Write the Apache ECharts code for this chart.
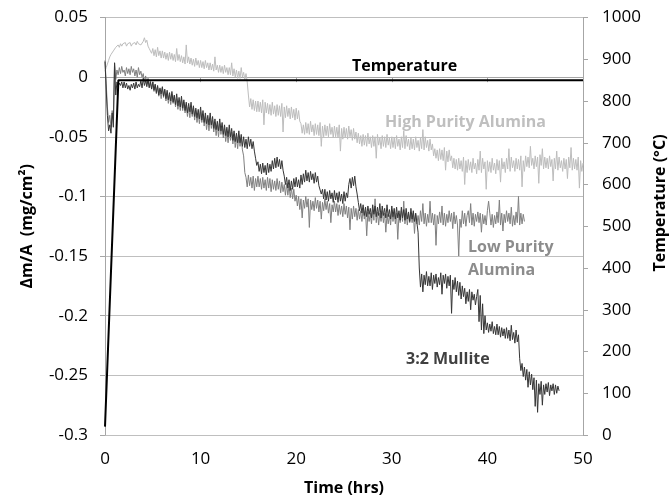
<!DOCTYPE html>
<html>
<head>
<meta charset="utf-8">
<script src="https://cdn.jsdelivr.net/npm/echarts@6/dist/echarts.min.js"></script>
<style>html,body{margin:0;padding:0;background:#fff}#c{width:670px;height:502px}</style>
</head>
<body>
<div id="c"></div>
<script>
// Sampling grid (hours) shared by the mass-change series
const SAMPLE_STEP = 0.125;

// 3:2 Mullite, Δm/A (mg/cm²), one value every 0.125 h from t = 0 (8 per hour, one row per hour)
const mulliteVals = [
  0.013, -0.010, -0.032, -0.045, -0.040, -0.047, -0.030, -0.042,
  0.012, -0.015, -0.004, -0.008, -0.005, -0.007, -0.004, -0.009,
  -0.004, -0.009, -0.005, -0.010, -0.007, -0.011, -0.006, -0.009,
  -0.005, -0.010, -0.004, -0.009, -0.006, -0.008, -0.003, -0.009,
  -0.001, -0.007, -0.003, -0.008, -0.002, -0.009, -0.004, -0.010,
  -0.004, -0.011, -0.006, -0.013, -0.007, -0.015, -0.009, -0.014,
  -0.008, -0.016, -0.010, -0.018, -0.011, -0.019, -0.013, -0.020,
  -0.012, -0.021, -0.015, -0.023, -0.014, -0.024, -0.017, -0.025,
  -0.016, -0.026, -0.019, -0.028, -0.021, -0.030, -0.022, -0.029,
  -0.021, -0.031, -0.024, -0.033, -0.026, -0.034, -0.027, -0.035,
  -0.025, -0.036, -0.028, -0.038, -0.030, -0.039, -0.032, -0.040,
  -0.030, -0.040, -0.033, -0.043, -0.035, -0.044, -0.037, -0.045,
  -0.035, -0.045, -0.038, -0.048, -0.040, -0.049, -0.042, -0.050,
  -0.040, -0.050, -0.043, -0.053, -0.045, -0.054, -0.047, -0.055,
  -0.045, -0.055, -0.048, -0.058, -0.050, -0.059, -0.052, -0.060,
  -0.050, -0.058, -0.052, -0.060, -0.054, -0.062, -0.068, -0.074,
  -0.071, -0.079, -0.073, -0.081, -0.072, -0.080, -0.074, -0.082,
  -0.072, -0.080, -0.073, -0.079, -0.070, -0.077, -0.068, -0.076,
  -0.067, -0.075, -0.069, -0.077, -0.070, -0.078, -0.083, -0.090,
  -0.084, -0.093, -0.086, -0.095, -0.087, -0.094, -0.085, -0.092,
  -0.084, -0.092, -0.086, -0.093, -0.082, -0.090, -0.081, -0.088,
  -0.078, -0.087, -0.080, -0.088, -0.079, -0.086, -0.081, -0.089,
  -0.080, -0.088, -0.083, -0.091, -0.090, -0.098, -0.094, -0.102,
  -0.094, -0.103, -0.096, -0.104, -0.095, -0.102, -0.097, -0.105,
  -0.095, -0.103, -0.097, -0.105, -0.096, -0.104, -0.098, -0.106,
  -0.096, -0.104, -0.097, -0.101, -0.090, -0.085, -0.093, -0.084,
  -0.091, -0.083, -0.092, -0.098, -0.105, -0.112, -0.106, -0.114,
  -0.107, -0.116, -0.109, -0.117, -0.108, -0.115, -0.110, -0.118,
  -0.107, -0.115, -0.108, -0.117, -0.109, -0.116, -0.106, -0.118,
  -0.108, -0.116, -0.110, -0.118, -0.107, -0.117, -0.111, -0.119,
  -0.108, -0.117, -0.110, -0.119, -0.109, -0.118, -0.112, -0.120,
  -0.109, -0.118, -0.111, -0.120, -0.110, -0.119, -0.113, -0.121,
  -0.110, -0.119, -0.112, -0.121, -0.114, -0.122, -0.130, -0.160,
  -0.176, -0.165, -0.180, -0.166, -0.174, -0.163, -0.175, -0.167,
  -0.175, -0.164, -0.178, -0.166, -0.173, -0.165, -0.176, -0.168,
  -0.174, -0.164, -0.182, -0.166, -0.173, -0.165, -0.177, -0.167,
  -0.175, -0.166, -0.198, -0.170, -0.178, -0.168, -0.180, -0.171,
  -0.183, -0.172, -0.186, -0.175, -0.184, -0.177, -0.190, -0.180,
  -0.188, -0.178, -0.195, -0.180, -0.187, -0.182, -0.191, -0.184,
  -0.178, -0.205, -0.183, -0.212, -0.190, -0.215, -0.200, -0.212,
  -0.206, -0.214, -0.207, -0.213, -0.205, -0.215, -0.209, -0.216,
  -0.207, -0.216, -0.209, -0.218, -0.210, -0.217, -0.211, -0.219,
  -0.210, -0.219, -0.212, -0.221, -0.208, -0.220, -0.214, -0.223,
  -0.212, -0.222, -0.216, -0.236, -0.246, -0.240, -0.251, -0.243,
  -0.254, -0.245, -0.260, -0.247, -0.258, -0.249, -0.262, -0.252,
  -0.276, -0.254, -0.281, -0.257, -0.266, -0.255, -0.275, -0.258,
  -0.266, -0.257, -0.264, -0.256, -0.267, -0.258, -0.263, -0.257,
  -0.266, -0.258, -0.265, -0.259, -0.263
];

// Low Purity Alumina, same sampling
const lowPurityVals = [
  0.014, -0.005, -0.025, -0.038, -0.032, -0.042, -0.028, -0.035,
  0.012, -0.002, 0.006, 0.002, 0.008, 0.003, 0.009, 0.004,
  0.006, 0.001, 0.008, 0.003, 0.007, 0.002, 0.009, 0.004,
  0.007, 0.001, 0.006, 0.000, 0.008, 0.002, 0.005, 0.000,
  0.003, -0.004, 0.001, -0.006, -0.001, -0.008, -0.003, -0.010,
  -0.004, -0.012, -0.006, -0.014, -0.008, -0.016, -0.010, -0.018,
  -0.009, -0.017, -0.011, -0.020, -0.013, -0.022, -0.015, -0.023,
  -0.014, -0.022, -0.016, -0.025, -0.018, -0.027, -0.020, -0.028,
  -0.019, -0.028, -0.021, -0.030, -0.023, -0.033, -0.025, -0.034,
  -0.024, -0.033, -0.026, -0.036, -0.028, -0.038, -0.030, -0.039,
  -0.029, -0.038, -0.031, -0.041, -0.033, -0.044, -0.035, -0.045,
  -0.034, -0.043, -0.036, -0.046, -0.038, -0.049, -0.040, -0.050,
  -0.039, -0.048, -0.041, -0.051, -0.043, -0.054, -0.045, -0.055,
  -0.044, -0.053, -0.046, -0.056, -0.048, -0.059, -0.050, -0.060,
  -0.049, -0.058, -0.051, -0.061, -0.066, -0.080, -0.084, -0.092,
  -0.082, -0.091, -0.084, -0.093, -0.083, -0.095, -0.085, -0.092,
  -0.083, -0.092, -0.085, -0.094, -0.084, -0.093, -0.086, -0.095,
  -0.084, -0.093, -0.085, -0.096, -0.086, -0.094, -0.087, -0.095,
  -0.085, -0.094, -0.087, -0.097, -0.088, -0.096, -0.090, -0.099,
  -0.089, -0.099, -0.091, -0.101, -0.093, -0.102, -0.094, -0.104,
  -0.099, -0.108, -0.100, -0.111, -0.102, -0.118, -0.103, -0.110,
  -0.100, -0.109, -0.102, -0.126, -0.103, -0.111, -0.104, -0.112,
  -0.101, -0.110, -0.103, -0.113, -0.104, -0.119, -0.105, -0.112,
  -0.102, -0.111, -0.104, -0.114, -0.106, -0.122, -0.107, -0.113,
  -0.104, -0.113, -0.106, -0.116, -0.107, -0.115, -0.108, -0.117,
  -0.106, -0.115, -0.108, -0.118, -0.109, -0.128, -0.110, -0.119,
  -0.108, -0.117, -0.110, -0.120, -0.111, -0.119, -0.112, -0.121,
  -0.110, -0.119, -0.112, -0.133, -0.113, -0.121, -0.114, -0.123,
  -0.111, -0.120, -0.102, -0.122, -0.113, -0.124, -0.114, -0.121,
  -0.112, -0.122, -0.114, -0.130, -0.115, -0.123, -0.116, -0.124,
  -0.111, -0.121, -0.113, -0.123, -0.114, -0.136, -0.115, -0.122,
  -0.112, -0.121, -0.104, -0.123, -0.114, -0.124, -0.115, -0.122,
  -0.113, -0.122, -0.114, -0.131, -0.115, -0.123, -0.116, -0.124,
  -0.112, -0.121, -0.106, -0.123, -0.114, -0.125, -0.115, -0.122,
  -0.104, -0.122, -0.114, -0.124, -0.115, -0.141, -0.116, -0.123,
  -0.113, -0.122, -0.108, -0.124, -0.114, -0.125, -0.115, -0.122,
  -0.112, -0.121, -0.114, -0.127, -0.113, -0.123, -0.116, -0.124,
  -0.150, -0.119, -0.126, -0.112, -0.123, -0.114, -0.125, -0.116,
  -0.112, -0.122, -0.106, -0.124, -0.114, -0.125, -0.115, -0.121,
  -0.113, -0.122, -0.114, -0.130, -0.115, -0.123, -0.116, -0.124,
  -0.112, -0.104, -0.114, -0.124, -0.115, -0.126, -0.116, -0.123,
  -0.113, -0.122, -0.103, -0.124, -0.114, -0.129, -0.115, -0.122,
  -0.112, -0.121, -0.114, -0.123, -0.109, -0.125, -0.116, -0.124,
  -0.113, -0.122, -0.100, -0.124, -0.114, -0.123, -0.115, -0.121
];

// High Purity Alumina, same sampling
const highPurityVals = [
  0.005, 0.008, 0.011, 0.014, 0.017, 0.019, 0.020, 0.022,
  0.023, 0.025, 0.024, 0.027, 0.025, 0.028, 0.026, 0.028,
  0.027, 0.029, 0.026, 0.028, 0.027, 0.029, 0.026, 0.028,
  0.027, 0.029, 0.027, 0.030, 0.028, 0.029, 0.027, 0.028,
  0.030, 0.033, 0.029, 0.031, 0.026, 0.024, 0.022, 0.020,
  0.024, 0.018, 0.023, 0.017, 0.025, 0.018, 0.022, 0.016,
  0.022, 0.016, 0.021, 0.015, 0.020, 0.014, 0.021, 0.015,
  0.020, 0.014, 0.019, 0.013, 0.024, 0.014, 0.019, 0.013,
  0.018, 0.012, 0.017, 0.011, 0.027, 0.012, 0.017, 0.011,
  0.016, 0.010, 0.015, 0.009, 0.016, 0.010, 0.014, 0.008,
  0.014, 0.008, 0.013, 0.007, 0.014, 0.008, 0.012, 0.006,
  0.012, 0.006, 0.011, 0.005, 0.017, 0.006, 0.010, 0.004,
  0.010, 0.004, 0.009, 0.003, 0.010, 0.004, 0.008, 0.002,
  0.008, 0.002, 0.012, 0.001, 0.007, 0.000, 0.006, -0.001,
  0.005, -0.001, 0.008, 0.000, 0.004, -0.002, 0.003, -0.004,
  -0.015, -0.025, -0.018, -0.027, -0.019, -0.028, -0.020, -0.029,
  -0.020, -0.029, -0.021, -0.030, -0.019, -0.040, -0.021, -0.030,
  -0.022, -0.031, -0.023, -0.032, -0.021, -0.031, -0.024, -0.033,
  -0.023, -0.032, -0.024, -0.033, -0.022, -0.046, -0.025, -0.034,
  -0.024, -0.033, -0.026, -0.035, -0.025, -0.034, -0.027, -0.036,
  -0.026, -0.035, -0.028, -0.037, -0.039, -0.047, -0.040, -0.048,
  -0.038, -0.047, -0.039, -0.048, -0.037, -0.046, -0.040, -0.049,
  -0.039, -0.048, -0.040, -0.049, -0.038, -0.058, -0.041, -0.050,
  -0.040, -0.049, -0.041, -0.050, -0.039, -0.048, -0.042, -0.051,
  -0.041, -0.050, -0.042, -0.051, -0.040, -0.062, -0.043, -0.052,
  -0.042, -0.051, -0.043, -0.052, -0.041, -0.050, -0.044, -0.053,
  -0.043, -0.052, -0.046, -0.055, -0.047, -0.056, -0.049, -0.058,
  -0.048, -0.057, -0.049, -0.058, -0.047, -0.056, -0.050, -0.059,
  -0.049, -0.058, -0.050, -0.068, -0.048, -0.057, -0.051, -0.060,
  -0.049, -0.058, -0.050, -0.059, -0.048, -0.057, -0.051, -0.060,
  -0.050, -0.059, -0.051, -0.060, -0.049, -0.058, -0.052, -0.061,
  -0.050, -0.059, -0.045, -0.060, -0.049, -0.058, -0.052, -0.061,
  -0.051, -0.060, -0.052, -0.061, -0.050, -0.059, -0.053, -0.062,
  -0.051, -0.060, -0.044, -0.061, -0.050, -0.059, -0.053, -0.062,
  -0.052, -0.061, -0.056, -0.066, -0.060, -0.068, -0.061, -0.070,
  -0.060, -0.069, -0.061, -0.070, -0.059, -0.078, -0.062, -0.071,
  -0.061, -0.070, -0.066, -0.076, -0.068, -0.077, -0.069, -0.078,
  -0.068, -0.077, -0.070, -0.079, -0.067, -0.090, -0.070, -0.080,
  -0.069, -0.078, -0.071, -0.080, -0.068, -0.077, -0.072, -0.081,
  -0.069, -0.078, -0.062, -0.080, -0.068, -0.077, -0.071, -0.094,
  -0.070, -0.079, -0.071, -0.080, -0.068, -0.078, -0.072, -0.081,
  -0.069, -0.078, -0.070, -0.088, -0.068, -0.077, -0.071, -0.080,
  -0.068, -0.077, -0.060, -0.079, -0.067, -0.076, -0.070, -0.079,
  -0.068, -0.077, -0.069, -0.078, -0.066, -0.092, -0.070, -0.079,
  -0.066, -0.075, -0.067, -0.076, -0.058, -0.074, -0.068, -0.077,
  -0.066, -0.075, -0.067, -0.089, -0.065, -0.074, -0.060, -0.077,
  -0.067, -0.076, -0.068, -0.077, -0.066, -0.075, -0.069, -0.087,
  -0.068, -0.077, -0.062, -0.078, -0.067, -0.076, -0.070, -0.079,
  -0.068, -0.077, -0.069, -0.085, -0.067, -0.076, -0.059, -0.078,
  -0.068, -0.077, -0.069, -0.078, -0.067, -0.093, -0.070, -0.079,
  -0.072
];

// Temperature (°C) on the right axis
const tempTimes = [0, 1.4, 50];
const tempVals = [20, 850, 850];

// Axis ticks
const xTicks = { min: 0, max: 50, step: 10 };
const yLeftTicks = { min: -0.3, max: 0.05, step: 0.05 };
const yRightTicks = { min: 0, max: 1000, step: 100 };

function pairs(vals) { return vals.map((v, i) => [i * SAMPLE_STEP, v]); }

const FONT = '"Open Sans", "Liberation Sans", sans-serif';
const axisGray = '#a6a6a6';
const titleStyle = { fontFamily: FONT, fontWeight: 'bold', fontSize: 16, color: '#000' };
const tickStyle = { fontFamily: FONT, fontSize: 17, color: '#000' };

const chart = echarts.init(document.getElementById('c'), null, { renderer: 'canvas' });
chart.setOption({
  animation: false,
  backgroundColor: '#ffffff',
  grid: { left: 105, right: 87, top: 17.5, bottom: 67, containLabel: false, outerBoundsMode: 'none' },
  xAxis: {
    type: 'value', min: xTicks.min, max: xTicks.max, interval: xTicks.step,
    name: 'Time (hrs)', nameLocation: 'middle', nameGap: 45, nameTextStyle: titleStyle,
    axisLine: { show: true, lineStyle: { color: axisGray, width: 1 } },
    axisTick: { show: true, length: 5, lineStyle: { color: axisGray } },
    axisLabel: Object.assign({ margin: 16 }, tickStyle),
    splitLine: { show: false }
  },
  yAxis: [
    {
      type: 'value', position: 'left', min: yLeftTicks.min, max: yLeftTicks.max, interval: yLeftTicks.step,
      name: 'Δm/A  (mg/cm²)', nameLocation: 'middle', nameGap: 70, nameRotate: 90, nameTextStyle: titleStyle,
      axisLine: { show: true, lineStyle: { color: axisGray, width: 1 } },
      axisTick: { show: true, length: 5, lineStyle: { color: axisGray } },
      axisLabel: Object.assign({ margin: 17, formatter: v => String(Math.round(v * 100) / 100) }, tickStyle),
      splitLine: { show: true, lineStyle: { color: '#bfbfbf', width: 1 } }
    },
    {
      type: 'value', position: 'right', min: yRightTicks.min, max: yRightTicks.max, interval: yRightTicks.step,
      axisLine: { show: true, lineStyle: { color: axisGray, width: 1 } },
      axisTick: { show: true, length: 5, lineStyle: { color: axisGray } },
      axisLabel: Object.assign({ margin: 19, formatter: v => String(v) }, tickStyle),
      splitLine: { show: false }
    }
  ],
  series: [
    { name: 'High Purity Alumina', type: 'line', yAxisIndex: 0, data: pairs(highPurityVals),
      showSymbol: false, lineStyle: { color: '#bdbdbd', width: 1 }, itemStyle: { color: '#bdbdbd' }, z: 2 },
    { name: 'Low Purity Alumina', type: 'line', yAxisIndex: 0, data: pairs(lowPurityVals),
      showSymbol: false, lineStyle: { color: '#808080', width: 1 }, itemStyle: { color: '#808080' }, z: 3 },
    { name: '3:2 Mullite', type: 'line', yAxisIndex: 0, data: pairs(mulliteVals),
      showSymbol: false, lineStyle: { color: '#363636', width: 1 }, itemStyle: { color: '#363636' }, z: 4 },
    { name: 'Temperature', type: 'line', yAxisIndex: 1, data: tempTimes.map((t, i) => [t, tempVals[i]]),
      showSymbol: false, lineStyle: { color: '#000', width: 2 }, itemStyle: { color: '#000' }, z: 5 }
  ],
  graphic: [
    { type: 'text', x: 660, y: 203, rotation: Math.PI / 2, z: 10,
      style: { text: 'Temperature (°C)', fontFamily: FONT, fontWeight: 'bold', fontSize: 16, fill: '#000', align: 'center', verticalAlign: 'middle' } },
    { type: 'text', left: 352, top: 58, z: 10, style: { text: 'Temperature', fontFamily: FONT, fontWeight: 'bold', fontSize: 16, fill: '#000' } },
    { type: 'text', left: 385, top: 114, z: 10, style: { text: 'High Purity Alumina', fontFamily: FONT, fontWeight: 'bold', fontSize: 16, fill: '#bfbfbf' } },
    { type: 'text', left: 468, top: 239, z: 10, style: { text: 'Low Purity', fontFamily: FONT, fontWeight: 'bold', fontSize: 16, fill: '#8c8c8c' } },
    { type: 'text', left: 468, top: 262, z: 10, style: { text: 'Alumina', fontFamily: FONT, fontWeight: 'bold', fontSize: 16, fill: '#8c8c8c' } },
    { type: 'text', left: 406, top: 351, z: 10, style: { text: '3:2 Mullite', fontFamily: FONT, fontWeight: 'bold', fontSize: 16, fill: '#404040' } }
  ]
});
</script>
</body>
</html>
